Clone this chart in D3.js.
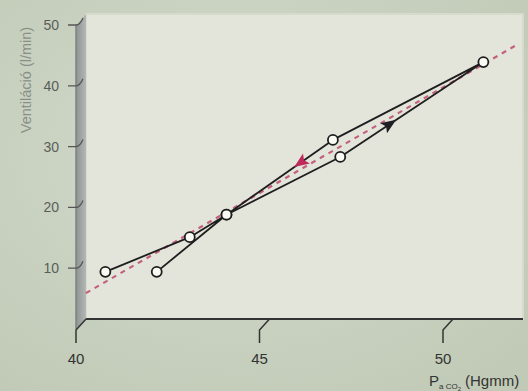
<!DOCTYPE html>
<html>
<head>
<meta charset="utf-8">
<script src="https://cdn.jsdelivr.net/npm/d3@7"></script>
<style>
  body { margin: 0; background: #cbd3c4; }
  svg { display: block; }
  text { font-family: "Liberation Sans Narrow", "Liberation Sans", Arial, sans-serif; }
</style>
</head>
<body>
<svg width="528" height="391"></svg>
<script>
// measurement sequence (loop), PaCO2 vs ventilation
var paco2 = [40.8, 43.1, 44.1, 47.2, 51.1, 47.0, 44.1, 42.2];
var vent = [9.4, 15.1, 18.8, 28.3, 43.9, 31.1, 18.8, 9.4];

// dashed reference line
var trendX = [40.27, 52.0];
var trendY = [5.9, 46.7];

var xTicks = [40, 45, 50];
var yTicks = [10, 20, 30, 40, 50];

var svg = d3.select("svg");
var width = +svg.attr("width");
var height = +svg.attr("height");

// front axes scale, back wall offset by (dx, dy)
var x = d3.scaleLinear().domain([40, 50]).range([76, 443]);
var y = d3.scaleLinear().domain([0, 50]).range([329, 25]);
var dx = 10, dy = -10;

var defs = svg.append("defs");
var bg = defs.append("radialGradient").attr("id", "bg").attr("cx", "45%").attr("cy", "40%").attr("r", "75%");
bg.append("stop").attr("offset", "0%").attr("stop-color", "#d4dbcc");
bg.append("stop").attr("offset", "100%").attr("stop-color", "#c0cab6");

var wallG = defs.append("linearGradient").attr("id", "wall").attr("x1", "0").attr("x2", "1");
wallG.append("stop").attr("offset", "0%").attr("stop-color", "#8e9393");
wallG.append("stop").attr("offset", "100%").attr("stop-color", "#b4b8b4");

svg.append("rect").attr("width", width).attr("height", height).attr("fill", "url(#bg)");

// back panel
var left = x(40) + dx, bottom = y(0) + dy;
svg.append("rect")
    .attr("x", left).attr("y", 14)
    .attr("width", 523 - left).attr("height", bottom - 14)
    .attr("fill", "#e3e5da")
    .attr("stroke", "#d7dbcd").attr("stroke-width", 2);

// left wall
svg.append("path")
    .attr("d", "M" + x(40) + "," + (y(50) + 1) + "L" + left + "," + 14 +
        "L" + left + "," + bottom + "L" + x(40) + "," + y(0) + "Z")
    .attr("fill", "url(#wall)");
svg.append("line")
    .attr("x1", x(40)).attr("y1", y(50)).attr("x2", x(40)).attr("y2", y(0))
    .attr("stroke", "#7d8282").attr("stroke-width", 1.5);

// floor line
svg.append("line")
    .attr("x1", left).attr("y1", bottom).attr("x2", 523).attr("y2", bottom)
    .attr("stroke", "#333").attr("stroke-width", 2.2);

// y ticks
svg.append("g").selectAll("path").data(yTicks).enter().append("path")
    .attr("d", function(d) {
        var yy = y(d);
        return "M" + (x(40) - 8) + "," + yy + "L" + x(40) + "," + yy +
            "Q" + (x(40) + 4) + "," + yy + " " + (x(40) + 7) + "," + (yy - 7);
    })
    .attr("fill", "none").attr("stroke", "#555").attr("stroke-width", 1.3);

svg.append("g").selectAll("text").data(yTicks).enter().append("text")
    .attr("x", x(40) - 17).attr("y", function(d) { return y(d) + 5; })
    .attr("text-anchor", "end")
    .attr("font-size", 14).attr("fill", "#5a5e5a")
    .text(function(d) { return d; });

// x ticks
svg.append("g").selectAll("path").data(xTicks).enter().append("path")
    .attr("d", function(d) {
        var xx = x(d);
        return "M" + xx + "," + (y(0) + 14) + "L" + xx + "," + (y(0) + 1) +
            "L" + (xx + dx) + "," + bottom;
    })
    .attr("fill", "none").attr("stroke", "#333").attr("stroke-width", 1.5);

svg.append("g").selectAll("text").data(xTicks).enter().append("text")
    .attr("x", function(d) { return x(d); }).attr("y", 364)
    .attr("text-anchor", "middle")
    .attr("font-size", 15).attr("fill", "#333")
    .text(function(d) { return d; });

// axis titles
svg.append("text")
    .attr("transform", "translate(31,80) rotate(-90)")
    .attr("text-anchor", "middle")
    .attr("font-size", 14.5).attr("fill", "#8a8f88")
    .text("Ventiláció (l/min)");

var xt = svg.append("text").attr("x", 429).attr("y", 386)
    .attr("font-size", 15).attr("fill", "#333");
xt.append("tspan").text("P");
xt.append("tspan").attr("font-size", 8).attr("dy", 3).text("a CO");
xt.append("tspan").attr("font-size", 6).attr("dy", 2).text("2");
xt.append("tspan").attr("dy", -5).attr("dx", 4).text("(Hgmm)");

// dashed line
svg.append("line")
    .attr("x1", x(trendX[0])).attr("y1", y(trendY[0]))
    .attr("x2", x(trendX[1])).attr("y2", y(trendY[1]))
    .attr("stroke", "#c4607e").attr("stroke-width", 2.2)
    .attr("stroke-dasharray", "5,5");

// loop line
var line = d3.line()
    .x(function(d, i) { return x(paco2[i]); })
    .y(function(d, i) { return y(vent[i]); });

svg.append("path")
    .datum(paco2)
    .attr("d", line)
    .attr("fill", "none").attr("stroke", "#1e1e1e").attr("stroke-width", 1.8)
    .attr("stroke-linejoin", "round");

// arrows along segments [segment index, fraction, colour]
var arrows = [[3, 0.35, "#1e1e24"], [5, 0.31, "#c02a5a"]];
svg.append("g").selectAll("path").data(arrows).enter().append("path")
    .attr("d", "M7,0L-8,-6L-5,0L-8,6Z")
    .attr("fill", function(d) { return d[2]; })
    .attr("transform", function(d) {
        var i = d[0], t = d[1];
        var x0 = x(paco2[i]), y0 = y(vent[i]);
        var x1 = x(paco2[i + 1]), y1 = y(vent[i + 1]);
        var a = Math.atan2(y1 - y0, x1 - x0) * 180 / Math.PI;
        return "translate(" + (x0 + (x1 - x0) * t) + "," + (y0 + (y1 - y0) * t) + ") rotate(" + a + ")";
    });

// markers
svg.append("g").selectAll("circle").data(paco2).enter().append("circle")
    .attr("cx", function(d) { return x(d); })
    .attr("cy", function(d, i) { return y(vent[i]); })
    .attr("r", 5)
    .attr("fill", "#fbfbf6").attr("stroke", "#1e1e1e").attr("stroke-width", 1.8);
</script>
</body>
</html>
